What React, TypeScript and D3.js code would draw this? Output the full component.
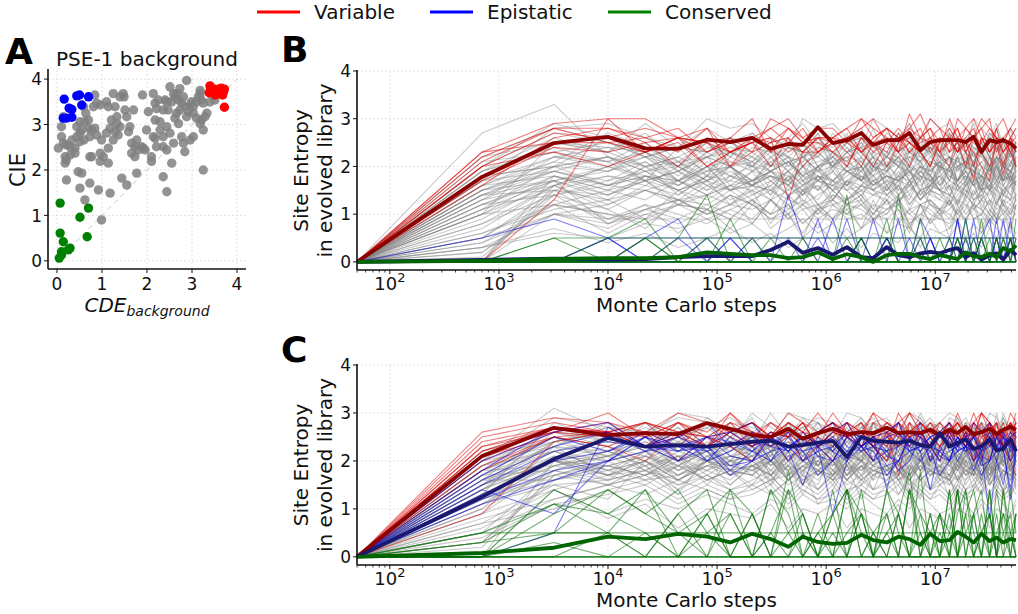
import React from 'react';
import * as d3 from 'd3';

// ---------- Panel A data (CDE_background, CIE) ----------
const GRAY_POINTS: [number, number][] = [
  [0.1, 2.95], [0.14, 3.17], [0.03, 2.48], [0.14, 2.59], [0.21, 2.55], [0.1, 2.73], [0.18, 2.29], [0.18, 2.15],
  [0.21, 1.78], [0.29, 2.51], [0.33, 2.66], [0.4, 2.37], [0.44, 2.95], [0.51, 3.06], [0.55, 2.88], [0.62, 3.06],
  [0.7, 3.1], [0.64, 3.25], [0.59, 3.39], [0.7, 2.92], [0.77, 2.88], [0.84, 2.92], [0.88, 2.77], [0.73, 2.73],
  [0.6, 2.66], [0.51, 2.81], [0.44, 2.73], [0.51, 2.62], [0.29, 2.33], [0.21, 2.22], [0.4, 2.48], [0.47, 1.96],
  [0.55, 1.93], [0.51, 1.6], [0.62, 1.34], [0.73, 1.71], [0.77, 2.29], [0.81, 3.39], [0.88, 3.47], [0.84, 3.65],
  [0.96, 3.43], [0.99, 2.66], [0.96, 2.37], [1.03, 2.29], [0.92, 1.56], [0.99, 0.9], [1.1, 3.5], [1.14, 3.39],
  [1.25, 3.68], [1.29, 3.39], [1.33, 3.17], [1.21, 3.1], [1.18, 2.92], [1.1, 2.81], [1.14, 2.48], [1.25, 2.66],
  [1.36, 2.77], [1.4, 2.95], [1.47, 3.68], [1.49, 3.61], [1.51, 3.32], [1.55, 3.17], [1.62, 2.95], [1.59, 2.84],
  [1.66, 2.59], [1.66, 2.37], [1.73, 2.29], [1.73, 2.51], [1.81, 2.44], [1.77, 2.66], [1.88, 2.51], [1.92, 2.48],
  [1.96, 2.44], [1.9, 3.65], [1.99, 2.88], [2.03, 3.28], [1.44, 1.82], [1.55, 1.67], [1.77, 1.93], [1.18, 1.49],
  [1.14, 2.15], [1.4, 3.61], [1.33, 3.02], [1.29, 2.84], [1.7, 3.32], [0.96, 2.19], [0.73, 2.29], [2.1, 2.29],
  [2.14, 3.68], [2.18, 3.47], [2.25, 3.54], [2.21, 3.35], [2.18, 3.1], [2.29, 3.06], [2.36, 3.32], [2.4, 3.54],
  [2.44, 3.5], [2.51, 3.83], [2.47, 3.32], [2.55, 3.5], [2.59, 3.68], [2.62, 3.61], [2.66, 3.68], [2.7, 3.54],
  [2.73, 3.32], [2.77, 3.47], [2.81, 3.61], [2.88, 3.97], [2.84, 3.39], [2.88, 3.17], [2.92, 3.28], [2.96, 3.43],
  [2.99, 3.5], [3.03, 3.39], [3.1, 3.5], [3.14, 3.61], [3.18, 3.68], [3.21, 3.54], [3.25, 3.47], [3.21, 3.1],
  [3.29, 3.17], [3.33, 3.25], [3.18, 3.75], [3.4, 3.5], [3.51, 3.54], [2.29, 2.88], [2.36, 2.73], [2.44, 2.95],
  [2.51, 2.81], [2.18, 2.7], [2.14, 2.73], [2.36, 2.51], [2.44, 2.44], [2.59, 2.59], [2.77, 2.73], [2.81, 2.59],
  [2.84, 2.4], [2.96, 2.66], [3.03, 2.73], [3.18, 3.02], [3.25, 2.88], [2.7, 3.02], [2.62, 3.14], [2.36, 1.85],
  [2.44, 1.52], [2.55, 2.15], [3.25, 2.0], [2.21, 2.51], [2.1, 2.19], [2.66, 3.25], [2.73, 3.79], [3.03, 3.25],
  [3.1, 3.14],
];
const RED_POINTS: [number, number][] = [
  [3.4, 3.85], [3.45, 3.72], [3.5, 3.78], [3.55, 3.7], [3.6, 3.75], [3.65, 3.8], [3.7, 3.72], [3.72, 3.78],
  [3.38, 3.7], [3.52, 3.65], [3.68, 3.65], [3.72, 3.38], [3.6, 3.78], [3.42, 3.8],
];
const BLUE_POINTS: [number, number][] = [
  [0.16, 3.56], [0.44, 3.63], [0.5, 3.65], [0.7, 3.61], [0.55, 3.43], [0.27, 3.36], [0.33, 3.33], [0.21, 3.14],
  [0.33, 3.16], [0.14, 3.14],
];
const GREEN_POINTS: [number, number][] = [
  [0.07, 1.27], [0.07, 0.61], [0.14, 0.42], [0.1, 0.2], [0.05, 0.06], [0.25, 0.24], [0.29, 0.28], [0.51, 0.96],
  [0.7, 1.16], [0.67, 0.53], [0.1, 0.13],
];
const A_TICKS = [0, 1, 2, 3, 4];

// ---------- Panels B & C data ----------
const STEPS = [50, 700, 3200, 10000, 22000, 44000, 81000, 132000, 210000, 310000, 450000, 610000, 840000,
  1150000, 1550000, 2100000, 2700000, 3600000, 4600000, 5800000, 7300000, 9000000, 11000000, 13500000,
  16000000, 19000000, 22500000, 26500000, 31500000, 36500000, 42000000, 49000000, 55000000];
const Y_TICKS = [0, 1, 2, 3, 4];
const X_DECADES = [2, 3, 4, 5, 6, 7];

const MEAN_RED_B = [0, 1.78, 2.49, 2.62, 2.38, 2.37, 2.56, 2.51, 2.6, 2.37, 2.47, 2.45, 2.82, 2.49, 2.55, 2.7,
  2.45, 2.55, 2.55, 2.7, 2.34, 2.51, 2.55, 2.55, 2.55, 2.51, 2.62, 2.3, 2.55, 2.51, 2.55, 2.48, 2.38];
const MEAN_BLUE_B = [0, 0.04, 0.07, 0.05, 0.06, 0.1, 0.12, 0.12, 0.12, 0.25, 0.42, 0.19, 0.29, 0.15, 0.31, 0.1,
  0.08, 0.31, 0.14, 0.1, 0.18, 0.21, 0.18, 0.25, 0.29, 0.1, 0.18, 0.05, 0.14, 0.18, 0.05, 0.25, 0.14];
const MEAN_GREEN_B = [0, 0.02, 0.06, 0.08, 0.08, 0.1, 0.2, 0.17, 0.14, 0.14, 0.08, 0.1, 0.2, 0.06, 0.16, 0.1,
  0.0, 0.14, 0.17, 0.17, 0.1, 0.06, 0.14, 0.1, 0.06, 0.2, 0.12, 0.1, 0.17, 0.1, 0.29, 0.22, 0.35];
const MEAN_RED_C = [0, 2.1, 2.69, 2.54, 2.58, 2.56, 2.79, 2.67, 2.54, 2.5, 2.67, 2.46, 2.58, 2.67, 2.56, 2.6,
  2.58, 2.69, 2.58, 2.6, 2.58, 2.65, 2.54, 2.65, 2.58, 2.71, 2.56, 2.6, 2.67, 2.56, 2.65, 2.71, 2.65];
const MEAN_BLUE_C = [0, 1.25, 2.04, 2.48, 2.3, 2.33, 2.3, 2.35, 2.4, 2.42, 2.3, 2.33, 2.38, 2.42, 2.08, 2.5,
  2.42, 2.4, 2.38, 2.42, 2.33, 2.3, 2.58, 2.3, 2.38, 2.45, 2.25, 2.3, 2.45, 2.22, 2.25, 2.45, 2.2];
const MEAN_GREEN_C = [0, 0.08, 0.19, 0.42, 0.37, 0.48, 0.42, 0.3, 0.48, 0.37, 0.21, 0.42, 0.31, 0.27, 0.29, 0.46,
  0.35, 0.3, 0.42, 0.37, 0.25, 0.48, 0.33, 0.35, 0.52, 0.42, 0.3, 0.48, 0.33, 0.4, 0.3, 0.37, 0.35];

// Per-site entropy traces, one character per step: base-36 digit / 10 (e.g. 'k' = 2.0, 'u' = 3.0)
const SITES_GRAY_B = [
  '0kt qnkgfhkmhj mkhfjmhkfj mhkjfmhkjm', '0rx mjkhmkjhmj kmhjmkhjmk jhmkjhmkhj',
  '0ac fhdcfgdfhc edgfcehdgf cfhdegcfhd', '05a 9ca8b9dac9 bac9bdacb9 dacbad9cba',
  '09h ehfdgheifg dhgefihdgf ehigdfheig', '0ef igkhfjigkh fjkgihjfkg ihkjfgikhj',
  '00a cfdecgfdce gfcedgcfed gcfegdcfge', '0hm kminkljmik nljmkinmlk jmlknimkjl',
  '036 5879685796 8579687596 7958697586', '0ch jlhjkhjlhk ljhkjlhkjl hkljhklhjk',
  '07g kifhkgihfk gikfhgkifh kgihfkgihk', '0bk mjlhkmjlik mjlikmjlhk mjlkimjlhk',
  '0jn lhjmkhjlmj hkmjlhmkjl mhkjlmhkjl', '02d 9bdacbd9ca dbcad9bcda bdc9adbcad',
  '0fj hlgjkhlgjh kjhlgkjhlg jkhlgjkhlj', '00i fdhegfdieh gdfhegdihf edgifhdegi',
  '0gi eigkfhigek hfigkehgif kgiehfkgie', '0dg ihjfhgjihf jgihfjgihj fhgjihfjgi',
  '0ap nkmplknmpk lmnkplmnkp mlnkpmlnkp', '06b dfcegdfceg cdgfecgdfe cgfdecgfde',
  '0ik qmonpmqonm pnqomqpnom qnpmoqnpmo', '0eh 8ac9bdac8b da9cbd8acb 9dacb8dacb',
  '0mp onkmpnkomp knopmknopm noknpmoknp', '0hj gfheigfhei fgehifgehi gfehigfehi',
  '01e hjgkihjgki hjkgihjkig khjigkhjig', '0dm okmjnlokmj nlokjmnlok mjnlokmjnl',
  '0jo lnjmkonjlm knojmlkonj mlkonjmlko', '04c a8cb9dac8b cad9bca8db ca9bdca8bd',
  '0bf ehcgdfhegc dhfegchdfe gchdfegcdh', '0gl jmhkljmhkl mjhlkmjhlk jmhlkjmhlk',
  '0fh khjgikhjgi hkjgihkjgi khjgihkgji', '0kr pmonqpmonq mpqonmpqon qmponqmpon',
  '00g cgeifchegi fcgiehcfgi ecghifecgh', '0ai gjfikgjfih jfgkihjfgk ihjgfkihjg',
  '0ej mklinmklin kmlinkmlin mklinkmlnk', '08e gihkfgihkf hgkifhgkif ghkifgkhif',
  '0ce 8bdaec9bda ecb9adec8b daecb9adce', '0ln pnqmonpqmo npqmonpqmo npqmonqpmn',
  '05f 9999999999 9999999999 9999999999', '0hs pmkonlpmko nlpmkonlpm konlpmkonl',
  '0ik gifhjgiefh gjifhegjif hgejifhgej', '037 4635746358 4736548376 5846375846',
  '0ag kolmnkolmn kolnmkolnm kolnmkonlm', '0fl rokpmrokpm rokpmrpkom rpkomrpkom',
  '0ms tqoustqous tqousqtous tqousqtoqs', '04a 7b9ca8d9b7 c9a8db7ca9 8bd9a7cb9a',
  '08g bfdhcegbfd hcebgdfhcb egdhbfcged', '02c 6a8b7c9a6b 8c7a9b6c8a 7b9c6a8b7c',
  '0fk jnhligmjnh lgjmhkinjl hmgjlikhnj', '0ci fkhmgjelif kgmhjfliek hmjgkflhim',
  '00f d9fbecagdb fcdaegb9fd cegbdafc9e', '05e b7dacf8ebc 9dfbae7cdb a8ecfb9dac',
  '0ip nrlpmqkonr lpmsknqmol rnpkqmslon', '0jq ntosprnqtp oqsnrptoqn spotnrqpsn',
  '0bh dihfkegjci fhdkgiejhf dkighfjedh', '03a 8c6b9d7a5c 9b7d6c8a9b 5c8d7b9a6c',
  '0gm lpjnqkomlr jnpkmqlonj rklpnjqmok', '0dj gkeihlfjgk dhjmfikegl jfhkdigljh',
  '06c a9cbe8dafb 9cead8bfca d9bfca8edb', '0ek mhoiqjlnpk mrhnjpkoim lqjnhpkmio',
];
const SITES_RED_B = [
  '0nt uuqsnpsuqs spuqsnvqsn uqsuqnsuqs', '0ms spqnpqspnq qsnpsqnqsp qnsqpsqnpq',
  '0kr qnpknpqnpp nkqpnrnpqn psnqnpqkqn', '0gq sqsnqunspq qsusqnsqus nusqsunqsq',
  '0ip pnqknpqdnq pqnkpnpnkp qnpkqnpqnk', '00d unqpnqpsqn qpnqsqpnqp spnhqpsnqp',
  '0ls pqnskqnpsn pqnpkpqsnq pnqsnkpqnp', '0ho npkqnpkqnn pkqnpspnkq npkqsnpiqn',
  '0np qsqpqnuspq nqsupqsvqs qsnqusqpsu', '0kn knqpknpqkn qnkpqnkqpn kqpnkhqnpk',
];
const SITES_BLUE_B = [
  '059 5050500005 0050505000 5050505050', '000 0590000500 9050090500 0905009050',
  '000 0005000e50 0900500950 0509005090', '000 5000050009 0000500050 0900590005',
  '000 5555555555 5555555555 5555555555', '000 0000500000 0009000050 0090000900',
];
const SITES_GREEN_B = [
  '005 0505000000 0050000500 0500505000', '000 005e000000 0000000000 0005000050',
  '000 0000000000 0e000e0000 0000050000', '000 0500050000 0000500000 5050500505',
  '005 5555555555 5555555555 5555555555', '000 0000000000 0000000000 0000000000',
  '000 0000000000 0000000000 0000000000', '000 0000905000 0050000900 0090000509',
  '000 5900000050 0500900005 0500905050',
];

const SITES_GRAY_C = [
  '0kt rnpkmqnplj nqskmoqpim qnpkrnqpkm', '0ds onkmpjkmoj nhmpojqkmp ojnkgpojnk',
  '0ai mjlhkojlfk jlhnmjdhkm jlhkmjlgko', '05c fhjgifkjdi hjgnfhjgif hbgifhjkih',
  '0hm pnkmonhmpl nkrpolnimp olnkmpsknl', '0fl kmhjlkohjl mhjekmhjlk hjlrmhjlkm',
  '09e higjkhmgjk igjkhigckh gjkhiljkhi', '0cj limknlfmkn imknlipknl mknlgmknli',
  '0gg jlhkijlnki lhkijdhkij hkijlhkqjl', '0kp nlpmonlsmo lpmjnlpmon pmonlpgonl',
  '00k hjfigkhjfi gkhjfigkhj figkhjfigk', '03h kmilnkmiln milnkmilnk milnkmilnk',
  '0eo qnspmqnspm nspmqnspmq spmqnspmqn', '0bf gifhegifhe ifhegifheg fhegifhegi',
  '0ip mkolnmkoln kolnmkolnm olnmkolnmk', '07a egcfdegcfd gcfdegcfde cfdegcfdeg',
  '0mr onqpsonqps nqpsonqpso qpsonqpson', '0dh kgjilkgjil gjilkgjilk jilkgjilkg',
  '0jm ikhljikhlj khljikhlji hljikhljik', '04b dfbecdfbec fbecdfbecd becdfbecdf',
  '0gr pmonqpmonq monqpmonqp onqpmonqpm', '0ek jhlikjhlik hlikjhlikj likjhlikjh',
  '0hn lnjmklnjmk njmklnjmkl jmklnjmkln', '0an hkgjihkgji kgjihkgjih gjihkgjihk',
  '0lo rpqnsrpqns pqnsrpqnsr qnsrpqnsrp', '06e 9cadb9cadb cadb9cadb9 adb9cadb9c',
  '0fk nilkmnilkm ilkmnilkmn lkmnilkmni', '0cg ikgjhikgjh kgjhikgjhi gjhikgjhik',
  '0ij mokpnmokpn okpnmokpnm kpnmokpnmo', '02h jhkgijhkgi hkgijhkgij kgijhkgijh',
  '0kn sputqsputq putqsputqs utqsputqsp', '0dj hfjgihfjgi fjgihfjgih jgihfjgihf',
  '08c fdgecfdgec dgecfdgecf gecfdgecfd', '0gm kolmnkolmn olmnkolmnk lmnkolmnko',
  '0bk mjnklmjnkl jnklmjnklm nklmjnklmj', '0hi fhdgefhdge hdgefhdgef dgefhdgefh',
  '0jq pnrmopnrmo nrmopnrmop rmopnrmopn', '0em ighkjighkj ghkjighkjg hkjighkjgh',
  '00e 8b6a98b6a9 b6a98b6a98 6a98b6a98b', '0fo lpmnolpmno pmnolpmnol mnolpmnolp',
  '0kv qsprtqsprt sprtqsprtq prtqsprtqs', '0gk jlikhjlikh likhjlikhj ikhjlikhjl',
  '0dk hkgkihkgki kgkihkgkih gkihkgkihk', '05i lnkmjlnkmj nkmjlnkmjl kmjlnkmjln',
  '0io qmsnrqmsnr msnrqmsnrq snrqmsnrqm', '0hp ksmpiqlrnj omkslpirmq knpjslqmir',
  '0dl hmjoklinhp jmkoihlnjq kimhojlpkn', '0fq osmrnpkqsm rlpnoqkspm nrlqpmskon',
  '0bi gljmhnkifm hlkgnjmilh kgmjlhnkig', '0jo qnrkpsmolq sjnqrlompk rnqlspkmoq',
  '07f ckehfjdgib ejchgkfdhi cfkgdjehcg', '0lr psntqouprs nqtpsrouqn tsprqnuosp',
  '0ek imgkjnhlmi gkomijhlng kjmhniloik', '0gn mqkslonrpj mpksnqlrom knsplqormj',
  '0ch fjdliegkhf mdjgikehlj gdkimfhejl', '0in rqtsourpts qorstpuqrs otpqsrnuqt',
  '03g jhlfkimgje hkfjlgimeh ljfigkhmje', '0mq nrosptmqrn pnsormqtpn sqoprnmtqo',
  '09j lpinkqjmol hpnkqjlomi nlkpjqmoil', '0fk giekfjhdig kefhjgdlei hgjekfidhg',
];
const SITES_RED_C = [
  '0qt squsqspusq sqpusqusqs puqsusqpus', '0ps qpsnqspqnq spqnsqpsqn qspnqsqpsn',
  '0nr pqnspnqpsn qpnsqpnqsp nqpsnqpsnq', '0mq psqnuqpsqn psqupnqsqp qsqpusnqsp',
  '0lp nqkpnqnpkn qpnkqnpqkn pnqknpqnkp', '09o qnspqnspqn sqnpsqnpsq nspqnsqnps',
  '0kq snqpsnqpsn qpsnqhsnqp snqpsnqpns', '0or qsqnsqpsqu qsnpqsuqnp sqnpuqsnpq',
  '0jp nkqpnkqpsn kpqnkpsqnk pqnkpqsnkh', '0nq upsqupsqnp uqspnuqspn qspuqnspqu',
  '0ip qspnqspknq spqnkspqnq spnqkspnqs', '0mr qnpsqnpsqp nsqpnsqpns qpnsqkpnsq',
];
const SITES_BLUE_C = [
  '0ir pnqkmpnqkm nqpkmnqpkm qnpkmqnpkm', '0gn qmpsnqkpmn qsnpmqnskq pmnsqpmnqp',
  '0dk mpknimpkon 9kpnmikpnm kpnim8kpnm', '005 rnpmqnpmqn pmqnpqmnpq mnpqmnpqmn',
  '0bg kpmnjkpmfn kpmnjkpmen kpmnjkpmen', '0fm onkpomknpo mknpeomknp oknpmokfnp',
  '0hp mqnkpmqnkp mqnkpsmqnk pmqnkpmqnk', '0ci kpnmhkpnmh kpnmhkpnmh kpnmhkpncm',
  '0kq snmpqsnmpq snmpqsnmpq snmpqsnmpq', '0e9 kmnplkmnpl kmnplkmnpl kmnplkmnpl',
];
const SITES_GREEN_C = [
  '000 0000000000 0000000000 0000000000', '000 0000000000 0000000000 0000000000',
  '000 0000000000 0000000000 0000000000', '05b 9505905090 5095090509 5090509059',
  '035 e9e5090e05 9e0590e509 0e590e0950', '005 509e090i50 90e059i090 e05090e590',
  '03b 5e09005e90 0590e90059 0e09e05900', '000 5090e00590 e09050e090 5e090e0509',
  '003 0509e90050 9e05090i05 09e05900e5', '055 5555555555 5555555555 5555555555',
  '00e 9e5900e509 0e90e50900 e09e590e09', '009 e95090e905 0e5090e950 90e5090e50',
];

const LEGEND = [
  { label: 'Variable', color: '#ff0000' },
  { label: 'Epistatic', color: '#0000ff' },
  { label: 'Conserved', color: '#008000' },
];

const decode = (s: string): number[] => s.replace(/\s/g, '').split('').map((c) => parseInt(c, 36) / 10);

const FONT = 'DejaVu Sans, sans-serif';
const GRID = '#d9d9d9';

type PanelProps = {
  bottom: number;
  top: number;
  letter: string;
  letterY: number;
  gray: string[];
  red: string[];
  blue: string[];
  green: string[];
  meanRed: number[];
  meanBlue: number[];
  meanGreen: number[];
};

function TracePanel(p: PanelProps) {
  const x = d3.scaleLog().domain([50, 5.5e7]).range([357, 1016]);
  const y = d3.scaleLinear().domain([-0.17, 4]).range([p.bottom, p.top]);
  const line = d3
    .line<number>()
    .x((_, i) => x(STEPS[i]))
    .y((d) => y(d));
  const minor: number[] = [];
  for (let e = 1; e <= 7; e++) {
    for (let m = 2; m <= 9; m++) {
      const v = m * Math.pow(10, e);
      if (v >= 50 && v <= 5.5e7) minor.push(v);
    }
  }
  const x0 = x.range()[0];
  const x1 = x.range()[1];
  const thin = (arr: string[], color: string, op: number) =>
    arr.map((s, i) => (
      <path key={color + i} d={line(decode(s)) || ''} fill="none" stroke={color} strokeOpacity={op}
        strokeWidth={1.1} strokeLinejoin="round" />
    ));
  const midY = (p.bottom + p.top) / 2;
  return (
    <g>
      {Y_TICKS.map((t) => (
        <line key={'gy' + t} x1={x0} x2={x1} y1={y(t)} y2={y(t)} stroke={GRID} strokeWidth={0.8} strokeDasharray="2,2" />
      ))}
      {X_DECADES.map((e) => (
        <line key={'gx' + e} x1={x(Math.pow(10, e))} x2={x(Math.pow(10, e))} y1={p.top} y2={p.bottom}
          stroke={GRID} strokeWidth={0.8} strokeDasharray="2,2" />
      ))}
      {thin(p.gray, '#808080', 0.42)}
      {thin(p.red, '#e00000', 0.5)}
      {thin(p.blue, '#0000e0', 0.5)}
      {thin(p.green, '#007000', 0.55)}
      <path d={line(p.meanRed) || ''} fill="none" stroke="#8b0000" strokeWidth={3.8} strokeLinejoin="round" />
      <path d={line(p.meanBlue) || ''} fill="none" stroke="#191970" strokeWidth={3.8} strokeLinejoin="round" />
      <path d={line(p.meanGreen) || ''} fill="none" stroke="#006400" strokeWidth={3.8} strokeLinejoin="round" />
      <line x1={x0} x2={x0} y1={p.top - 1} y2={p.bottom} stroke="#111" strokeWidth={1.6} />
      <line x1={x0} x2={x1} y1={p.bottom} y2={p.bottom} stroke="#111" strokeWidth={1.6} />
      {Y_TICKS.map((t) => (
        <g key={'yt' + t}>
          <line x1={x0 - 4} x2={x0} y1={y(t)} y2={y(t)} stroke="#111" strokeWidth={1} />
          <text x={x0 - 6} y={y(t)} dy="0.36em" textAnchor="end" fontSize={17} fontFamily={FONT} fill="#111">{t}</text>
        </g>
      ))}
      {minor.map((v, i) => (
        <line key={'mn' + i} x1={x(v)} x2={x(v)} y1={p.bottom} y2={p.bottom + 2.5} stroke="#111" strokeWidth={0.8} />
      ))}
      {X_DECADES.map((e) => (
        <g key={'xt' + e}>
          <line x1={x(Math.pow(10, e))} x2={x(Math.pow(10, e))} y1={p.bottom} y2={p.bottom + 4} stroke="#111" strokeWidth={1} />
          <text x={x(Math.pow(10, e))} y={p.bottom + 20} textAnchor="middle" fontSize={18} fontFamily={FONT} fill="#111">
            <tspan>10</tspan>
            <tspan dy={-8} fontSize={13}>{e}</tspan>
          </text>
        </g>
      ))}
      <text x={(x0 + x1) / 2} y={p.bottom + 42} textAnchor="middle" fontSize={20} fontFamily={FONT} fill="#111">Monte Carlo steps</text>
      <text transform={`translate(308,${midY}) rotate(-90)`} textAnchor="middle" fontSize={20} fontFamily={FONT} fill="#111">Site Entropy</text>
      <text transform={`translate(332,${midY}) rotate(-90)`} textAnchor="middle" fontSize={20} fontFamily={FONT} fill="#111">in evolved library</text>
      <text x={281} y={p.letterY} fontSize={36} fontWeight="bold" fontFamily={FONT} fill="#000">{p.letter}</text>
    </g>
  );
}

function ScatterPanel() {
  const x = d3.scaleLinear().domain([-0.2, 4.2]).range([48, 246]);
  const y = d3.scaleLinear().domain([-0.18, 4.2]).range([269, 70]);
  const dots = (pts: [number, number][], color: string, op: number, key: string) =>
    pts.map((d, i) => <circle key={key + i} cx={x(d[0])} cy={y(d[1])} r={4.7} fill={color} fillOpacity={op} />);
  return (
    <g>
      {A_TICKS.map((t) => (
        <g key={'ag' + t}>
          <line x1={x(t)} x2={x(t)} y1={70} y2={269} stroke={GRID} strokeWidth={0.8} strokeDasharray="2,2" />
          <line x1={48} x2={246} y1={y(t)} y2={y(t)} stroke={GRID} strokeWidth={0.8} strokeDasharray="2,2" />
        </g>
      ))}
      <line x1={x(0)} y1={y(0)} x2={x(4)} y2={y(4)} stroke="#c8c8c8" strokeWidth={1} strokeDasharray="5,4" />
      {dots(GRAY_POINTS, '#808080', 0.85, 'g')}
      {dots(RED_POINTS, '#ff0000', 1, 'r')}
      {dots(BLUE_POINTS, '#0000ff', 1, 'b')}
      {dots(GREEN_POINTS, '#008000', 1, 'n')}
      <line x1={48} x2={48} y1={69} y2={269} stroke="#111" strokeWidth={1.6} />
      <line x1={48} x2={246} y1={269} y2={269} stroke="#111" strokeWidth={1.6} />
      {A_TICKS.map((t) => (
        <g key={'at' + t}>
          <line x1={44} x2={48} y1={y(t)} y2={y(t)} stroke="#111" strokeWidth={1} />
          <text x={42} y={y(t)} dy="0.36em" textAnchor="end" fontSize={17} fontFamily={FONT} fill="#111">{t}</text>
          <line x1={x(t)} x2={x(t)} y1={269} y2={273} stroke="#111" strokeWidth={1} />
          <text x={x(t)} y={290} textAnchor="middle" fontSize={17} fontFamily={FONT} fill="#111">{t}</text>
        </g>
      ))}
      <text x={147} y={66} textAnchor="middle" fontSize={20} fontFamily={FONT} fill="#111">PSE-1 background</text>
      <text transform="translate(25,170) rotate(-90)" textAnchor="middle" fontSize={21} fontFamily={FONT} fill="#111">CIE</text>
      <text x={147} y={312} textAnchor="middle" fontFamily={FONT} fill="#111" fontStyle="italic">
        <tspan fontSize={20}>CDE</tspan>
        <tspan fontSize={14} dy={4}>background</tspan>
      </text>
      <text x={5} y={64} fontSize={36} fontWeight="bold" fontFamily={FONT} fill="#000">A</text>
    </g>
  );
}

function Legend() {
  const xs = [257, 430, 608];
  return (
    <g>
      {LEGEND.map((l, i) => (
        <g key={l.label}>
          <line x1={xs[i]} x2={xs[i] + 43} y1={12} y2={12} stroke={l.color} strokeWidth={3} />
          <text x={xs[i] + 57} y={19} fontSize={20} fontFamily={FONT} fill="#111">{l.label}</text>
        </g>
      ))}
    </g>
  );
}

export default function App() {
  return (
    <svg width={1018} height={614} style={{ position: 'absolute', left: 0, top: 0, background: '#fff' }}>
      <rect width={1018} height={614} fill="#fff" />
      <Legend />
      <ScatterPanel />
      <TracePanel bottom={270} top={71} letter="B" letterY={62} gray={SITES_GRAY_B} red={SITES_RED_B}
        blue={SITES_BLUE_B} green={SITES_GREEN_B} meanRed={MEAN_RED_B} meanBlue={MEAN_BLUE_B} meanGreen={MEAN_GREEN_B} />
      <TracePanel bottom={565} top={365} letter="C" letterY={362} gray={SITES_GRAY_C} red={SITES_RED_C}
        blue={SITES_BLUE_C} green={SITES_GREEN_C} meanRed={MEAN_RED_C} meanBlue={MEAN_BLUE_C} meanGreen={MEAN_GREEN_C} />
    </svg>
  );
}
